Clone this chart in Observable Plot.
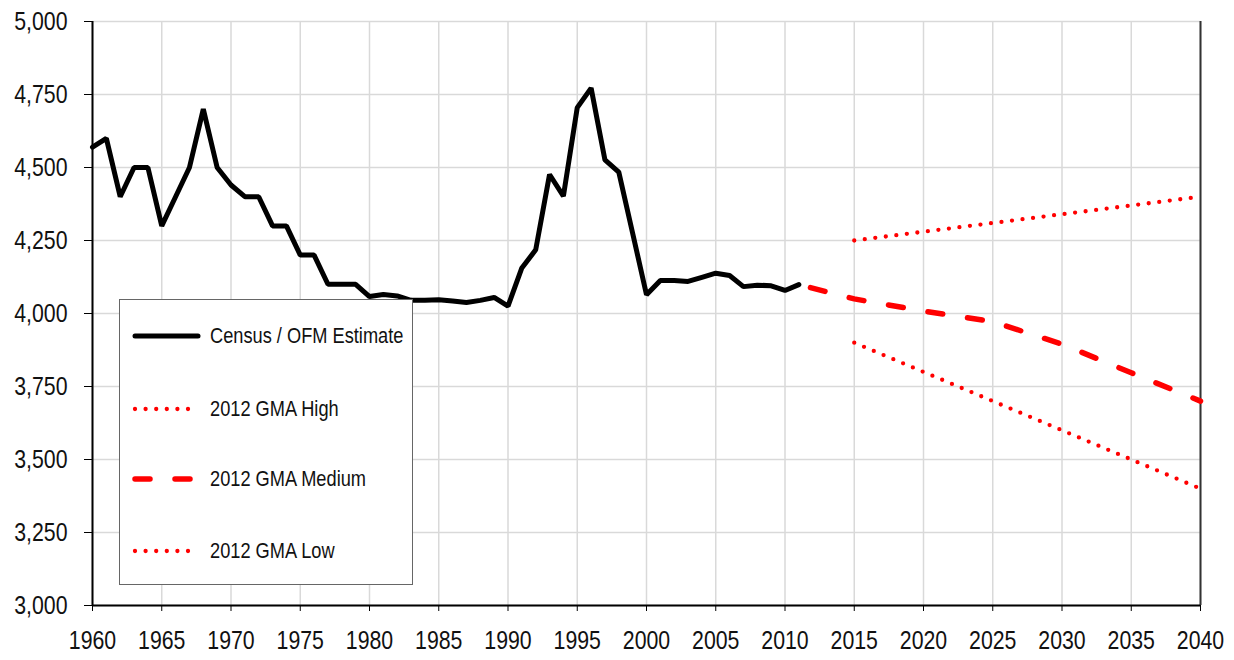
<!DOCTYPE html>
<html>
<head>
<meta charset="utf-8">
<script src="https://cdn.jsdelivr.net/npm/d3@7"></script>
<script src="https://cdn.jsdelivr.net/npm/@observablehq/plot@0.6"></script>
<style>
  body { margin: 0; background: #fff; }
  #wrap { position: relative; width: 1234px; height: 660px; }
  #legend { position: absolute; left: 119px; top: 299px; width: 292px; height: 284px;
    border: 1.5px solid #666; background: #fff; font-family: "Liberation Sans", Arial, sans-serif; font-size: 22.5px; color: #111; }
  .row { position: absolute; left: 12px; display: flex; align-items: center; height: 26px; white-space: nowrap; }
  .row svg { margin-right: 9px; flex: none; }
  .row span { display: inline-block; transform: scaleX(0.81); transform-origin: left center; }
</style>
</head>
<body>
<div id="wrap"></div>
<script>
// Census / OFM estimate
const censusYears = d3.range(1960, 2012);
const censusValues = [4570, 4600, 4400, 4500, 4500, 4300, 4400, 4500, 4700, 4500,
  4440, 4400, 4400, 4300, 4300, 4200, 4200, 4100, 4100, 4100,
  4058, 4065, 4060, 4045, 4045, 4047, 4043, 4038, 4045, 4055,
  4025, 4156, 4218, 4476, 4402, 4705, 4772, 4526, 4484, 4275,
  4064, 4113, 4113, 4110, 4124, 4138, 4130, 4092, 4097, 4095,
  4079, 4099];
// 2012 GMA projections
const projYears = [2015, 2020, 2025, 2030, 2035, 2040];
const highValues = [4250, 4280, 4310, 4340, 4370, 4400];
const lowValues = [3900, 3800, 3700, 3600, 3500, 3400];
const mediumYears = [2011, 2015, 2020, 2025, 2030, 2035, 2040];
const mediumValues = [4099, 4050, 4008, 3972, 3895, 3797, 3700];
const xTicks = d3.range(1960, 2041, 5);
const yTicks = d3.range(3000, 5001, 250);
const legendLabels = ["Census / OFM Estimate", "2012 GMA High", "2012 GMA Medium", "2012 GMA Low"];

const census = censusYears.map((y, i) => ({year: y, value: censusValues[i]}));
const high = projYears.map((y, i) => ({year: y, value: highValues[i]}));
const low = projYears.map((y, i) => ({year: y, value: lowValues[i]}));
const medium = mediumYears.map((y, i) => ({year: y, value: mediumValues[i]}));

const red = "#ff0000";
const dotted = {stroke: red, strokeWidth: 4.3, strokeDasharray: "0 10.6", strokeLinecap: "round"};

const chart = Plot.plot({
  width: 1234, height: 660,
  marginLeft: 92, marginRight: 34, marginTop: 21, marginBottom: 55,
  style: {fontFamily: "'Liberation Sans', Arial, sans-serif", fontSize: "26px", color: "#111", background: "#fff"},
  x: {domain: [1960, 2040]},
  y: {domain: [3000, 5000]},
  marks: [
    Plot.ruleX(xTicks, {stroke: "#d9d9d9", strokeWidth: 1.5}),
    Plot.ruleY(yTicks, {stroke: "#d9d9d9", strokeWidth: 1.5}),
    Plot.axisX({ticks: xTicks, tickFormat: d3.format("d"), tickSize: 6, tickPadding: 19, stroke: "#000", label: null}),
    Plot.axisY({ticks: yTicks, tickFormat: d3.format(","), tickSize: 8, tickPadding: 17, stroke: "#000", label: null}),
    Plot.ruleX([2040], {stroke: "#333", strokeWidth: 2}),
    Plot.line(high, {x: "year", y: "value", ...dotted}),
    Plot.line(low, {x: "year", y: "value", ...dotted}),
    Plot.line(medium, {x: "year", y: "value", stroke: red, strokeWidth: 5.5, strokeDasharray: "15 25", strokeDashoffset: -12, strokeLinecap: "round"}),
    Plot.line(census, {x: "year", y: "value", stroke: "#000", strokeWidth: 5, strokeLinejoin: "miter", strokeLinecap: "round"}),
    Plot.ruleX([1960], {stroke: "#000", strokeWidth: 2}),
    Plot.ruleY([3000], {stroke: "#000", strokeWidth: 2})
  ]
});
const wrap = document.getElementById("wrap");
wrap.appendChild(chart);

// condense tick labels (narrow face look) around their anchor
function condense(selector, anchor) {
  chart.querySelectorAll(selector).forEach(t => {
    const b = t.getBBox();
    const a = anchor === "end" ? b.x + b.width : b.x + b.width / 2;
    const tr = t.getAttribute("transform") || "";
    t.setAttribute("transform", `${tr} translate(${a},0) scale(0.82,1) translate(${-a},0)`.trim());
  });
}
condense('g[aria-label="x-axis tick label"] text', "middle");
condense('g[aria-label="y-axis tick label"] text', "end");

// Legend
const legend = document.createElement("div");
legend.id = "legend";
const rowTops = [23, 96, 166, 238];
const samples = [
  `<line x1="3" y1="6" x2="66" y2="6" stroke="#000" stroke-width="5" stroke-linecap="round"/>`,
  `<line x1="3" y1="6" x2="66" y2="6" stroke="${red}" stroke-width="4.3" stroke-dasharray="0 10.6" stroke-linecap="round"/>`,
  `<line x1="3" y1="6" x2="66" y2="6" stroke="${red}" stroke-width="5.5" stroke-dasharray="15 25" stroke-linecap="round"/>`,
  `<line x1="3" y1="6" x2="66" y2="6" stroke="${red}" stroke-width="4.3" stroke-dasharray="0 10.6" stroke-linecap="round"/>`
];
legendLabels.forEach((lab, i) => {
  const row = document.createElement("div");
  row.className = "row";
  row.style.top = rowTops[i] + "px";
  row.innerHTML = `<svg width="69" height="12">${samples[i]}</svg><span>${lab}</span>`;
  legend.appendChild(row);
});
wrap.appendChild(legend);
</script>
</body>
</html>
